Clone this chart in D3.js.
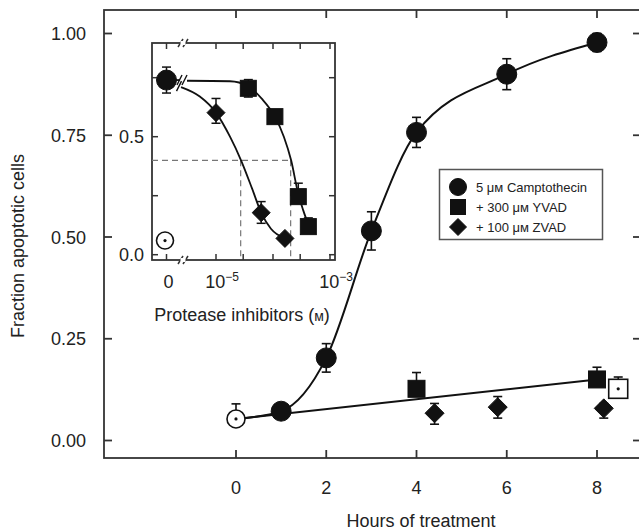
<!DOCTYPE html>
<html><head><meta charset="utf-8">
<script src="https://cdn.jsdelivr.net/npm/d3@7"></script>
<style>
html,body{margin:0;padding:0;background:#fff;}
text{font-family:"Liberation Sans",Arial,sans-serif;fill:#222;}
</style></head>
<body><svg id="c" width="639" height="530"></svg>
<script>
// ---------- main panel data ----------
const hours = [0, 1, 2, 3, 4, 6, 8];
const campto = [0.053, 0.072, 0.203, 0.515, 0.757, 0.900, 0.978];
const camptoErrUp = [0.037, 0, 0.035, 0.047, 0.037, 0.038, 0.022];
const camptoErrDown = [0, 0, 0.035, 0.047, 0.037, 0.038, 0.022];
const yvadHours = [4, 8];
const yvad = [0.127, 0.150];
const yvadErrUp = [0.040, 0.030];
const zvadHours = [4.4, 5.8, 8.15];
const zvad = [0.067, 0.082, 0.079];
const zvadErrUp = [0.024, 0.026, 0.012];
const zvadErrDown = [0.027, 0.027, 0.024];
const controlHours = [8.47];
const control = [0.127];
const controlErrUp = [0.029];
const fitHours = [0, 8];
const fitValues = [0.053, 0.150];
const yTicks = [0, 0.25, 0.5, 0.75, 1];
const yTickLabels = ["0.00", "0.25", "0.50", "0.75", "1.00"];
const xTicks = [0, 2, 4, 6, 8];
const xTickLabels = ["0", "2", "4", "6", "8"];
const legendLabels = ["5 μм Camptothecin", "+ 300 μм YVAD", "+ 100 μм ZVAD"];

// ---------- inset data ----------
const insetCampto = [0.74];
const insetCamptoErr = [0.055];
const insetUntreated = [0.06];
const yvadConc = [3.69e-5, 1.08e-4, 2.78e-4, 4.17e-4];
const yvadFrac = [0.705, 0.585, 0.246, 0.119];
const yvadInErrUp = [0.037, 0, 0.057, 0.037];
const yvadInErrDown = [0.037, 0, 0, 0];
const zvadConc = [1e-5, 6.2e-5, 1.62e-4];
const zvadFrac = [0.602, 0.178, 0.069];
const zvadInErrUp = [0.06, 0.047, 0];
const zvadInErrDown = [0.045, 0.045, 0];
const yvadFitConc = [3.1e-6, 1.76e-5, 3.6e-5, 6.4e-5, 1.08e-4, 1.55e-4, 2.08e-4, 2.76e-4, 3.37e-4, 4.3e-4];
const yvadFitFrac = [0.737, 0.735, 0.715, 0.66, 0.585, 0.50, 0.40, 0.26, 0.19, 0.12];
const zvadFitConc = [2.43e-6, 5.2e-6, 1e-5, 1.76e-5, 2.75e-5, 4.3e-5, 6.2e-5, 9.2e-5, 1.62e-4];
const zvadFitFrac = [0.71, 0.67, 0.602, 0.50, 0.40, 0.28, 0.178, 0.11, 0.069];
const halfMax = 0.40;
const ic50Conc = [2.71e-5, 2.04e-4];
const insetYTicks = [0, 0.25, 0.5, 0.75];
const insetYLabels = {0: "0.0", 0.5: "0.5"};
const insetXTicks = [1e-5, 3e-5, 1e-4, 3e-4, 1e-3];
const insetXLabels = [[1e-5, "−5"], [1e-3, "−3"]];

// ---------- setup ----------
const svg = d3.select("#c");
const ink = "#111", axisCol = "#333";
const x = d3.scaleLinear().domain([0, 8]).range([236, 597]);
const y = d3.scaleLinear().domain([0, 1]).range([440.5, 33.5]);
const F = {left: 104, right: 641, top: 10, bottom: 458};

// frame
const fr = svg.append("g").attr("stroke", axisCol).attr("stroke-width", 1.8).attr("fill", "none");
fr.append("rect").attr("x", F.left).attr("y", F.top).attr("width", F.right - F.left).attr("height", F.bottom - F.top);
// ticks (inward)
xTicks.forEach(t => {
  fr.append("line").attr("x1", x(t)).attr("x2", x(t)).attr("y1", F.bottom).attr("y2", F.bottom - 8);
  fr.append("line").attr("x1", x(t)).attr("x2", x(t)).attr("y1", F.top).attr("y2", F.top + 8);
});
yTicks.forEach(t => {
  fr.append("line").attr("x1", F.left).attr("x2", F.left + 8).attr("y1", y(t)).attr("y2", y(t));
  fr.append("line").attr("x1", F.right).attr("x2", F.right - 8).attr("y1", y(t)).attr("y2", y(t));
});
// tick labels
yTicks.forEach((t, i) => {
  svg.append("text").attr("x", 86).attr("y", y(t) + 6.5).attr("text-anchor", "end")
    .attr("font-size", 18).text(yTickLabels[i]);
});
xTicks.forEach((t, i) => {
  svg.append("text").attr("x", x(t)).attr("y", 493.5).attr("text-anchor", "middle")
    .attr("font-size", 18).text(xTickLabels[i]);
});
svg.append("text").attr("x", 421).attr("y", 526.5).attr("text-anchor", "middle")
  .attr("font-size", 18).text("Hours of treatment");
svg.append("text").attr("transform", "translate(24,246) rotate(-90)").attr("text-anchor", "middle")
  .attr("font-size", 18).text("Fraction apoptotic cells");

// helpers
function errBar(g, cx, yv, up, down, ys, cap) {
  if (up > 0) {
    g.append("line").attr("x1", cx).attr("x2", cx).attr("y1", ys(yv)).attr("y2", ys(yv + up));
    g.append("line").attr("x1", cx - cap / 2).attr("x2", cx + cap / 2).attr("y1", ys(yv + up)).attr("y2", ys(yv + up));
  }
  if (down > 0) {
    g.append("line").attr("x1", cx).attr("x2", cx).attr("y1", ys(yv)).attr("y2", ys(yv - down));
    g.append("line").attr("x1", cx - cap / 2).attr("x2", cx + cap / 2).attr("y1", ys(yv - down)).attr("y2", ys(yv - down));
  }
}
function marker(g, type, cx, cy, size, filled) {
  let m;
  if (type === "circle") m = g.append("circle").attr("cx", cx).attr("cy", cy).attr("r", size / 2);
  else if (type === "square") m = g.append("rect").attr("x", cx - size / 2).attr("y", cy - size / 2).attr("width", size).attr("height", size);
  else m = g.append("path").attr("d", `M${cx},${cy - size / 2}L${cx + size / 2},${cy}L${cx},${cy + size / 2}L${cx - size / 2},${cy}Z`);
  if (filled) m.attr("fill", ink).attr("stroke", ink).attr("stroke-width", 1);
  else {
    m.attr("fill", "#fff").attr("stroke", ink).attr("stroke-width", 1.6);
    g.append("circle").attr("cx", cx).attr("cy", cy).attr("r", 1.6).attr("fill", ink);
  }
}

// main curves
const lines = svg.append("g").attr("fill", "none").attr("stroke", ink).attr("stroke-width", 2);
lines.append("path").attr("d", d3.line().x(d => x(d[0])).y(d => y(d[1])).curve(d3.curveMonotoneX)(hours.map((h, i) => [h, campto[i]])));
lines.append("path").attr("d", d3.line().x(d => x(d[0])).y(d => y(d[1]))(fitHours.map((h, i) => [h, fitValues[i]])));

// main error bars + markers
const eb = svg.append("g").attr("stroke", ink).attr("stroke-width", 1.6);
hours.forEach((h, i) => errBar(eb, x(h), campto[i], camptoErrUp[i], camptoErrDown[i], y, 9));
yvadHours.forEach((h, i) => errBar(eb, x(h), yvad[i], yvadErrUp[i], 0, y, 9));
zvadHours.forEach((h, i) => errBar(eb, x(h), zvad[i], zvadErrUp[i], zvadErrDown[i], y, 9));
controlHours.forEach((h, i) => errBar(eb, x(h), control[i], controlErrUp[i], 0, y, 9));
const mk = svg.append("g");
hours.forEach((h, i) => marker(mk, "circle", x(h), y(campto[i]), i === 0 ? 18 : 20, i !== 0));
yvadHours.forEach((h, i) => marker(mk, "square", x(h), y(yvad[i]), 17, true));
zvadHours.forEach((h, i) => marker(mk, "diamond", x(h), y(zvad[i]), 19, true));
controlHours.forEach((h, i) => marker(mk, "square", x(h), y(control[i]), 19, false));

// legend
const lg = svg.append("g");
lg.append("rect").attr("x", 439.5).attr("y", 169.5).attr("width", 163).attr("height", 70)
  .attr("fill", "#fff").attr("stroke", "#555").attr("stroke-width", 1.5);
["circle", "square", "diamond"].forEach((t, i) => {
  const cy = 187 + i * 20;
  marker(lg, t, 458, cy, t === "circle" ? 17 : (t === "square" ? 15 : 17), true);
  lg.append("text").attr("x", 476).attr("y", cy + 4.5).attr("font-size", 13).text(legendLabels[i]);
});

// ---------- inset ----------
const I = {left: 152, right: 335, top: 43, bottom: 260};
const xi = d3.scaleLog().domain([1e-5, 1e-3]).range([216, 330]);
const yi = d3.scaleLinear().domain([0, 0.75]).range([254.7, 77.7]);
const zeroX = xi(1e-5) - 49.5;
const breakX = xi(1e-5) - 33;
const ins = svg.append("g");
ins.append("rect").attr("x", I.left).attr("y", I.top).attr("width", I.right - I.left).attr("height", I.bottom - I.top)
  .attr("fill", "#fff").attr("stroke", axisCol).attr("stroke-width", 1.8);
const it = ins.append("g").attr("stroke", axisCol).attr("stroke-width", 1.5);
insetYTicks.forEach(t => {
  it.append("line").attr("x1", I.left).attr("x2", I.left + 6).attr("y1", yi(t)).attr("y2", yi(t));
  it.append("line").attr("x1", I.right).attr("x2", I.right - 6).attr("y1", yi(t)).attr("y2", yi(t));
});
[zeroX].concat(insetXTicks.map(v => xi(v))).forEach(px => {
  it.append("line").attr("x1", px).attr("x2", px).attr("y1", I.bottom).attr("y2", I.bottom - 6);
  it.append("line").attr("x1", px).attr("x2", px).attr("y1", I.top).attr("y2", I.top + 6);
});
// axis breaks
[I.top, I.bottom].forEach(yy => {
  ins.append("rect").attr("x", breakX - 2.5).attr("y", yy - 2).attr("width", 5).attr("height", 4).attr("fill", "#fff");
  [-2.5, 2.5].forEach(o => it.append("line").attr("x1", breakX + o - 2.5).attr("x2", breakX + o + 2.5)
    .attr("y1", yy + 4).attr("y2", yy - 4));
});
// labels
Object.keys(insetYLabels).forEach(k => {
  ins.append("text").attr("x", 119).attr("y", yi(+k) + 6.5).attr("font-size", 18).text(insetYLabels[k]);
});
ins.append("text").attr("x", zeroX + 2).attr("y", 288).attr("text-anchor", "middle").attr("font-size", 18).text("0");
insetXLabels.forEach(([v, e]) => {
  const t = ins.append("text").attr("x", xi(v) + 6).attr("y", 288).attr("text-anchor", "middle").attr("font-size", 18);
  t.append("tspan").text("10");
  t.append("tspan").attr("dy", -7).attr("font-size", 12).text(e);
});
const xt = ins.append("text").attr("x", 242).attr("y", 321).attr("text-anchor", "middle").attr("font-size", 18);
xt.append("tspan").text("Protease inhibitors (");
xt.append("tspan").attr("font-size", 14).text("м");
xt.append("tspan").text(")");

// dashed IC50 guides
const dg = ins.append("g").attr("stroke", "#777").attr("stroke-width", 1.2).attr("stroke-dasharray", "6,4").attr("fill", "none");
dg.append("line").attr("x1", I.left).attr("x2", xi(ic50Conc[1])).attr("y1", yi(halfMax)).attr("y2", yi(halfMax));
ic50Conc.forEach(c => dg.append("line").attr("x1", xi(c)).attr("x2", xi(c)).attr("y1", yi(halfMax)).attr("y2", I.bottom));

// fitted curves
const il = ins.append("g").attr("fill", "none").attr("stroke", ink).attr("stroke-width", 1.8);
const lineIn = d3.line().x(d => xi(d[0])).y(d => yi(d[1])).curve(d3.curveMonotoneX);
il.append("path").attr("d", lineIn(yvadFitConc.map((c, i) => [c, yvadFitFrac[i]])));
il.append("path").attr("d", lineIn(zvadFitConc.map((c, i) => [c, zvadFitFrac[i]])));
il.append("line").attr("x1", zeroX).attr("x2", breakX - 3).attr("y1", yi(insetCampto[0])).attr("y2", yi(insetCampto[0]));
// break marks on curves
[[breakX - 1, yi(insetCampto[0])], [breakX - 4, yi(zvadFitFrac[0]) - 1]].forEach(([bx, by], k) => {
  const offs = k === 0 ? [-2.5, 2.5] : [0];
  offs.forEach(o => il.append("line").attr("stroke-width", 1.4)
    .attr("x1", bx + o - 2.5).attr("x2", bx + o + 2.5).attr("y1", by + 5).attr("y2", by - 5));
});
// inset error bars & markers
const ie = ins.append("g").attr("stroke", ink).attr("stroke-width", 1.5);
errBar(ie, zeroX, insetCampto[0], insetCamptoErr[0], insetCamptoErr[0], yi, 9);
yvadConc.forEach((c, i) => errBar(ie, xi(c), yvadFrac[i], yvadInErrUp[i], yvadInErrDown[i], yi, 9));
zvadConc.forEach((c, i) => errBar(ie, xi(c), zvadFrac[i], zvadInErrUp[i], zvadInErrDown[i], yi, 9));
const im = ins.append("g");
marker(im, "circle", zeroX, yi(insetCampto[0]), 20, true);
marker(im, "circle", zeroX - 1.5, yi(insetUntreated[0]), 17, false);
yvadConc.forEach((c, i) => marker(im, "square", xi(c), yi(yvadFrac[i]), 16, true));
zvadConc.forEach((c, i) => marker(im, "diamond", xi(c), yi(zvadFrac[i]), 18, true));
</script></body></html>
